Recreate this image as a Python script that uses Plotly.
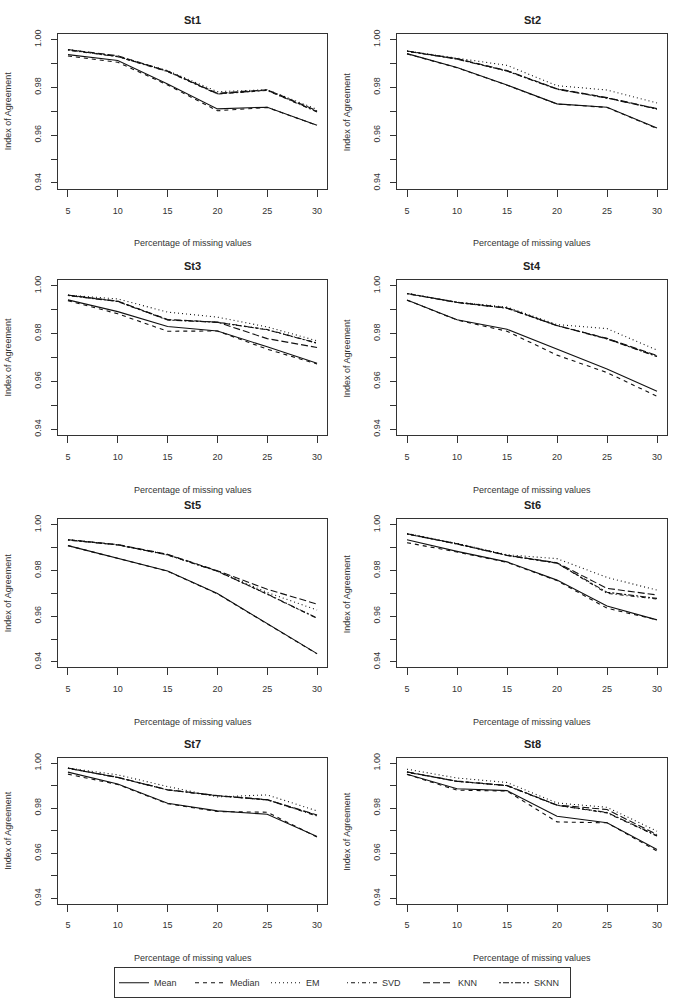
import plotly.graph_objects as go

W, H = 674, 1004

pct_missing = [5, 10, 15, 20, 25, 30]
methods = ["Mean", "Median", "EM", "SVD", "KNN", "SKNN"]
stations = ["St1", "St2", "St3", "St4", "St5", "St6", "St7", "St8"]

# values per station, rows in the order of `methods`
st1 = [[0.9937, 0.9912, 0.9814, 0.9710, 0.9717, 0.9641],
       [0.9931, 0.9905, 0.9810, 0.9702, 0.9716, 0.9641],
       [0.9958, 0.9930, 0.9870, 0.9782, 0.9790, 0.9708],
       [0.9956, 0.9928, 0.9866, 0.9772, 0.9787, 0.9697],
       [0.9958, 0.9932, 0.9868, 0.9775, 0.9790, 0.9702],
       [0.9957, 0.9929, 0.9867, 0.9773, 0.9788, 0.9699]]
st2 = [[0.9941, 0.9883, 0.9810, 0.9731, 0.9717, 0.9630],
       [0.9940, 0.9882, 0.9809, 0.9730, 0.9716, 0.9628],
       [0.9952, 0.9922, 0.9892, 0.9807, 0.9789, 0.9735],
       [0.9951, 0.9919, 0.9869, 0.9793, 0.9756, 0.9710],
       [0.9952, 0.9920, 0.9870, 0.9794, 0.9757, 0.9711],
       [0.9951, 0.9918, 0.9868, 0.9792, 0.9755, 0.9709]]
st3 = [[0.9941, 0.9892, 0.9830, 0.9811, 0.9745, 0.9676],
       [0.9938, 0.9883, 0.9810, 0.9811, 0.9735, 0.9673],
       [0.9961, 0.9945, 0.9890, 0.9869, 0.9828, 0.9770],
       [0.9960, 0.9935, 0.9858, 0.9848, 0.9817, 0.9761],
       [0.9961, 0.9936, 0.9859, 0.9848, 0.9779, 0.9742],
       [0.9960, 0.9934, 0.9857, 0.9847, 0.9816, 0.9760]]
st4 = [[0.9941, 0.9858, 0.9818, 0.9734, 0.9652, 0.9559],
       [0.9940, 0.9857, 0.9810, 0.9710, 0.9637, 0.9538],
       [0.9968, 0.9932, 0.9911, 0.9838, 0.9821, 0.9731],
       [0.9968, 0.9931, 0.9908, 0.9834, 0.9779, 0.9705],
       [0.9968, 0.9931, 0.9907, 0.9834, 0.9780, 0.9708],
       [0.9967, 0.9930, 0.9906, 0.9833, 0.9778, 0.9704]]
st5 = [[0.9909, 0.9855, 0.9798, 0.9699, 0.9566, 0.9436],
       [0.9909, 0.9854, 0.9797, 0.9698, 0.9565, 0.9435],
       [0.9935, 0.9913, 0.9870, 0.9798, 0.9704, 0.9627],
       [0.9934, 0.9912, 0.9868, 0.9797, 0.9696, 0.9591],
       [0.9935, 0.9914, 0.9871, 0.9799, 0.9718, 0.9653],
       [0.9934, 0.9912, 0.9869, 0.9797, 0.9697, 0.9592]]
st6 = [[0.9935, 0.9884, 0.9838, 0.9758, 0.9645, 0.9584],
       [0.9922, 0.9881, 0.9836, 0.9756, 0.9635, 0.9584],
       [0.9962, 0.9919, 0.9869, 0.9852, 0.9770, 0.9714],
       [0.9960, 0.9917, 0.9867, 0.9833, 0.9700, 0.9675],
       [0.9961, 0.9917, 0.9867, 0.9834, 0.9722, 0.9693],
       [0.9960, 0.9916, 0.9866, 0.9832, 0.9705, 0.9678]]
st7 = [[0.9960, 0.9907, 0.9822, 0.9788, 0.9773, 0.9674],
       [0.9951, 0.9905, 0.9820, 0.9785, 0.9782, 0.9672],
       [0.9978, 0.9948, 0.9896, 0.9850, 0.9859, 0.9788],
       [0.9977, 0.9936, 0.9881, 0.9855, 0.9837, 0.9765],
       [0.9978, 0.9937, 0.9882, 0.9856, 0.9838, 0.9770],
       [0.9977, 0.9936, 0.9881, 0.9855, 0.9837, 0.9768]]
st8 = [[0.9951, 0.9886, 0.9878, 0.9764, 0.9735, 0.9617],
       [0.9950, 0.9880, 0.9876, 0.9739, 0.9735, 0.9610],
       [0.9973, 0.9934, 0.9914, 0.9823, 0.9804, 0.9698],
       [0.9960, 0.9919, 0.9900, 0.9813, 0.9779, 0.9676],
       [0.9961, 0.9920, 0.9901, 0.9814, 0.9794, 0.9683],
       [0.9960, 0.9919, 0.9900, 0.9813, 0.9781, 0.9678]]

station_values = [st1, st2, st3, st4, st5, st6, st7, st8]

x_ticks = [5, 10, 15, 20, 25, 30]
y_ticks = [0.94, 0.95, 0.96, 0.97, 0.98, 0.99, 1.00]
y_ticktext = ["0.94", "", "0.96", "", "0.98", "", "1.00"]

# R-like line types: solid, dashed, dotted, dotdash, longdash, twodash
dashes = ["solid", "4px,4px", "1px,3px", "1px,3px,4px,3px", "7px,3px", "2px,2px,6px,2px"]

# layout geometry in pixels
col_x = [(58, 327), (397, 667)]
row_y = [(29, 185), (277, 433), (518, 667), (758, 905)]

def px(x):
    return x / W

def py(y):
    return 1 - y / H

FONT = "Liberation Sans, Arial, sans-serif"
TXT = "#333333"

fig = go.Figure()
annotations = []
layout = {}

for i, (name, vals) in enumerate(zip(stations, station_values)):
    r, c = divmod(i, 2)
    x0, x1 = col_x[c]
    y0, y1 = row_y[r]
    k = "" if i == 0 else str(i + 1)
    for m, (meth, ys) in enumerate(zip(methods, vals)):
        fig.add_trace(go.Scatter(
            x=pct_missing, y=ys, mode="lines", name=meth,
            line=dict(color="#111111", width=1.1, dash=dashes[m]),
            xaxis="x" + k, yaxis="y" + k,
            showlegend=(i == 0), legendgroup=meth,
        ))
    layout["xaxis" + k] = dict(
        domain=[px(x0), px(x1)], anchor="y" + k, range=[4, 31],
        tickvals=x_ticks, ticks="outside", ticklen=7, tickcolor="#333",
        showline=True, linecolor="#333", linewidth=1, mirror=True,
        showgrid=False, zeroline=False, ticklabelstandoff=6,
        tickfont=dict(size=9, color=TXT, family=FONT),
    )
    layout["yaxis" + k] = dict(
        domain=[py(y1), py(y0)], anchor="x" + k, range=[0.9376, 1.0024],
        tickvals=y_ticks, ticktext=y_ticktext, ticks="outside", ticklen=6,
        tickcolor="#333", tickangle=-90,
        showline=True, linecolor="#333", linewidth=1, mirror=True,
        showgrid=False, zeroline=False, ticklabelstandoff=6,
        tickfont=dict(size=9, color=TXT, family=FONT),
    )
    cx = (x0 + x1) / 2 + 0
    annotations.append(dict(
        text="<b>" + name + "</b>", x=px(cx), y=py(y0 - 14), xref="paper", yref="paper",
        showarrow=False, xanchor="center", yanchor="middle",
        font=dict(size=11, color="#222", family=FONT)))
    annotations.append(dict(
        text="Percentage of missing values", x=px(cx), y=py(y1 + 55),
        xref="paper", yref="paper", showarrow=False, xanchor="center", yanchor="middle",
        font=dict(size=9, color=TXT, family=FONT)))
    annotations.append(dict(
        text="Index of Agreement", x=px(x0 - 50), y=py((y0 + y1) / 2),
        xref="paper", yref="paper", showarrow=False, textangle=-90,
        xanchor="center", yanchor="middle",
        font=dict(size=9, color=TXT, family=FONT)))

fig.update_layout(
    width=W, height=H, margin=dict(l=0, r=0, t=0, b=0),
    paper_bgcolor="white", plot_bgcolor="white",
    annotations=annotations,
    legend=dict(
        orientation="h", x=px(114), y=py(969), xanchor="left", yanchor="top",
        bordercolor="#333", borderwidth=1, bgcolor="white",
        font=dict(size=9, color=TXT, family=FONT),
        entrywidth=31, entrywidthmode="pixels", tracegroupgap=0,
        itemwidth=30,
    ),
    **layout,
)

fig.write_html("out.html")
